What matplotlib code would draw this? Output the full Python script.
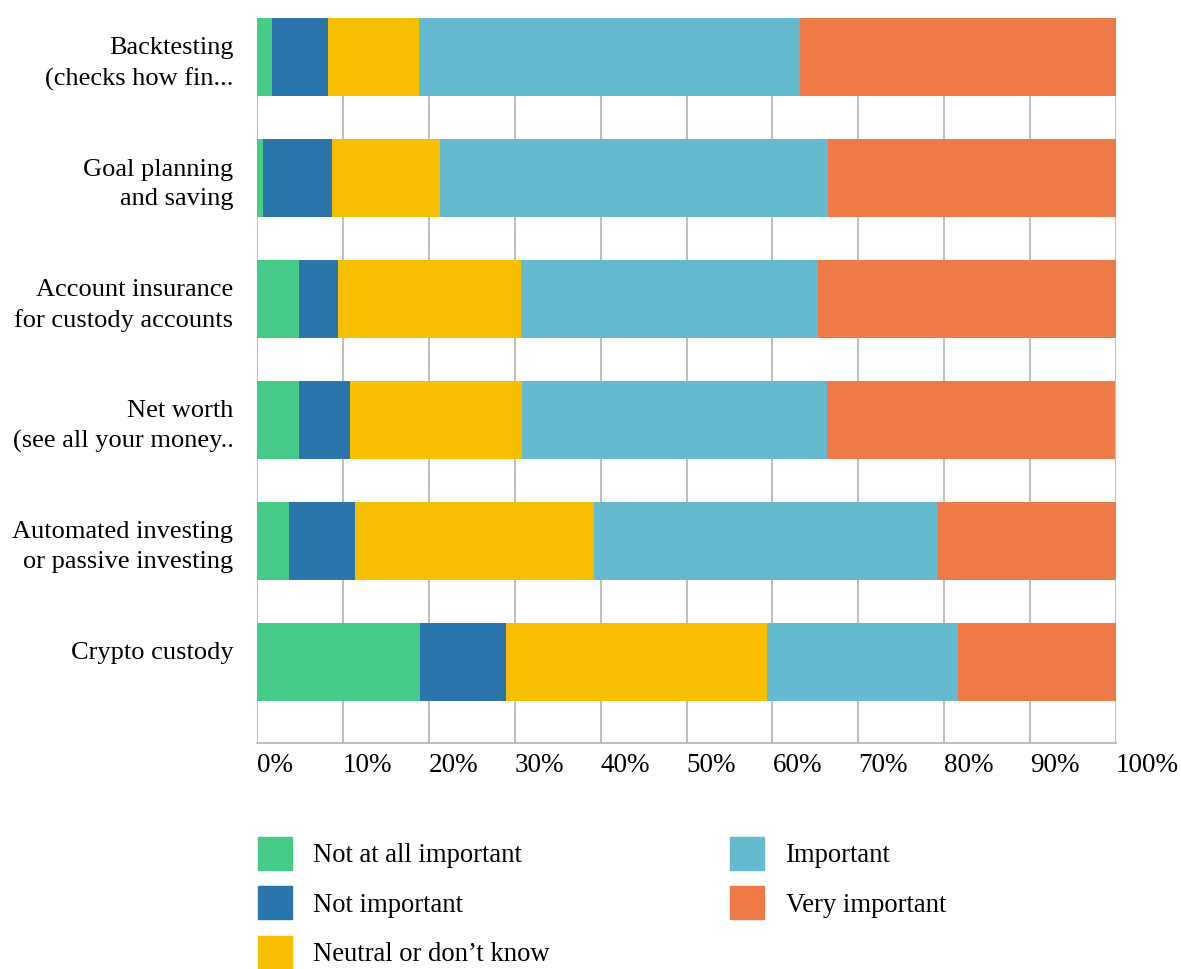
import numpy as np
import matplotlib.pyplot as plt
from matplotlib.patches import Patch

plt.rcParams['font.family'] = ['Liberation Serif', 'DejaVu Serif']

categories = [
    "Backtesting\n(checks how fin...",
    "Goal planning\nand saving",
    "Account insurance\nfor custody accounts",
    "Net worth\n(see all your money..",
    "Automated investing\nor passive investing",
    "Crypto custody\n",
]
series = ["Not at all important", "Not important", "Neutral or don\u2019t know",
          "Important", "Very important"]
not_at_all = [1.75, 0.7, 4.9, 4.9, 3.7, 19.0]
not_important = [6.5, 8.0, 4.5, 5.9, 7.7, 10.0]
neutral = [10.6, 12.6, 21.3, 20.0, 27.8, 30.4]
important = [44.35, 45.2, 34.6, 35.6, 40.0, 22.2]
very_important = [36.8, 33.5, 34.7, 33.5, 20.8, 18.4]
colors = ["#46cb89", "#2b75ad", "#f7bf00", "#66bacf", "#ee7a47"]
ticks = [0, 10, 20, 30, 40, 50, 60, 70, 80, 90, 100]

fig = plt.figure(figsize=(11.81, 9.69), dpi=100)
ax = fig.add_axes([257 / 1181, 1 - 743 / 969, (1116 - 257) / 1181, (743 - 18) / 969])

y = np.arange(len(categories))
left = np.zeros(len(categories))
for vals, col, name in zip([not_at_all, not_important, neutral, important, very_important],
                           colors, series):
    ax.barh(y, vals, left=left, height=0.645, color=col, label=name, zorder=2)
    left += np.array(vals)

ax.set_xlim(0, 100)
ax.set_ylim(len(categories) - 1 + 0.67, -0.3225)
ax.set_xticks(ticks)
ax.set_xticklabels([f"{t}%" for t in ticks], ha='left', fontsize=19.5)
ax.set_yticks(y)
ax.set_yticklabels(categories, fontsize=19, ha='right', linespacing=1.45)
ax.tick_params(axis='both', length=0)
ax.tick_params(axis='y', pad=17)
ax.tick_params(axis='x', pad=7)
ax.grid(axis='x', color='#b3b3b3', linewidth=1.2, zorder=0)
for s in ['top', 'right', 'left']:
    ax.spines[s].set_visible(False)
ax.spines['bottom'].set_color('#b3b3b3')
ax.spines['bottom'].set_linewidth(1.2)

handles = [Patch(color=c, label=s) for c, s in zip(colors, series)]
fig.legend(handles=handles, ncol=2, frameon=False, fontsize=19.2,
           loc='upper left', bbox_to_anchor=(258 / 1181, 1 - 837 / 969),
           handlelength=1.28, handleheight=1.52, handletextpad=0.8,
           labelspacing=0.62, columnspacing=6.75, borderaxespad=0, borderpad=0)

fig.savefig("out.png", dpi=100)
